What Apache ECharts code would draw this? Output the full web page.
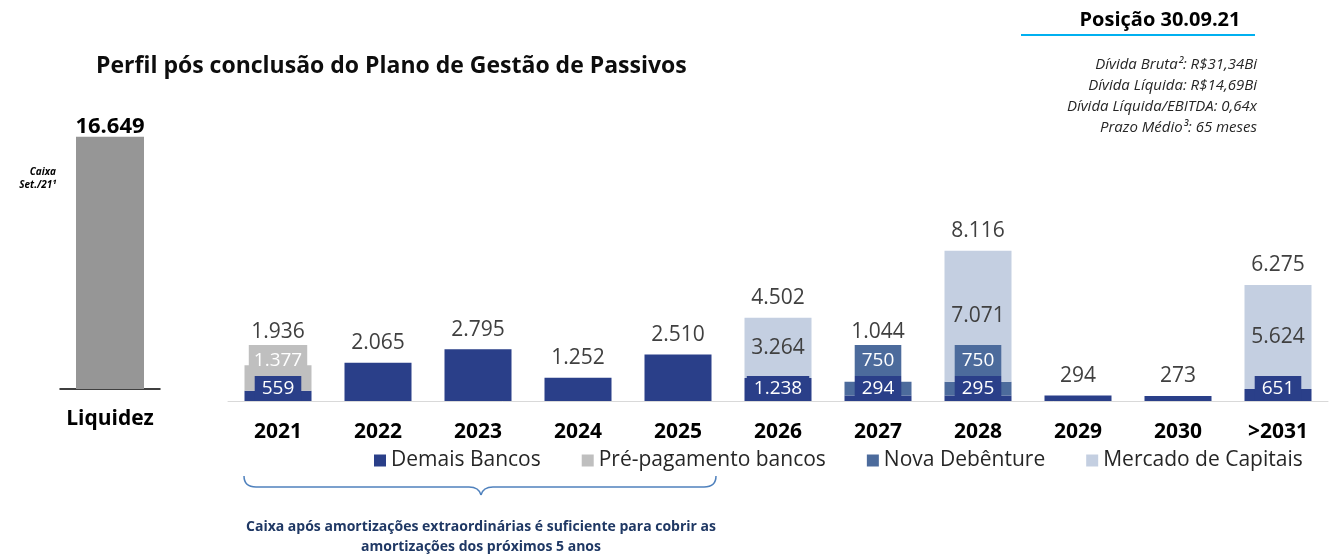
<!DOCTYPE html>
<html>
<head>
<meta charset="utf-8">
<script src="https://cdn.jsdelivr.net/npm/echarts@6/dist/echarts.min.js"></script>
<style>
  html, body { margin: 0; padding: 0; background: #fff; }
  #chart { width: 1329px; height: 556px; }
</style>
</head>
<body>
<div id="chart"></div>
<script>
// vencimentos por ano (R$ milhões)
const years = ['2021', '2022', '2023', '2024', '2025', '2026', '2027', '2028', '2029', '2030', '>2031']
const demaisBancos = [559, 2065, 2795, 1252, 2510, 1238, 294, 295, 294, 273, 651]
const prePagamento = [1377, 0, 0, 0, 0, 0, 0, 0, 0, 0, 0]
const novaDebenture = [0, 0, 0, 0, 0, 0, 750, 750, 0, 0, 0]
const mercadoCapitais = [0, 0, 0, 0, 0, 3264, 0, 7071, 0, 0, 5624]
const liquidezCat = ['Liquidez']
const caixa = [16649]
const legendNames = ['Demais Bancos', 'Pré-pagamento bancos', 'Nova Debênture', 'Mercado de Capitais']

const FONT = 'Open Sans'
const colors = ['#2a3f89', '#bfbfbf', '#4c6b9c', '#c4cfe1']

const fmt = v => String(v).replace(/\B(?=(\d{3})+(?!\d))/g, '.')
const totals = years.map((y, i) => demaisBancos[i] + prePagamento[i] + novaDebenture[i] + mercadoCapitais[i])

// px per unit on the main grid (height 185 / max 10000)
const yMax = 10000
const gridH = 185
const k = gridH / yMax

const chart = echarts.init(document.getElementById('chart'))

const boxLabel = (bg, pad) => ({
  position: 'insideBottom',
  distance: 0,
  color: '#fff',
  fontFamily: FONT,
  fontSize: 19,
  lineHeight: 19,
  backgroundColor: bg,
  padding: pad,
  formatter: p => fmt(p.value)
})

// middle segments sit right above the Demais label box
const midData = arr => arr.map((v, i) => ({
  value: v,
  label: { show: v > 0, offset: [0, demaisBancos[i] * k - 25] }
}))

const txt = (x, y, text, extra) => ({
  type: 'text', x: x, y: y, z: 10,
  style: Object.assign({ text: text, verticalAlign: 'middle', fontFamily: FONT, fill: '#000' }, extra)
})

const stroke = { stroke: '#4f81bd', lineWidth: 1.5, fill: null }

chart.setOption({
  animation: false,
  textStyle: { fontFamily: FONT },
  title: {
    text: 'Perfil pós conclusão do Plano de Gestão de Passivos',
    left: 91,
    top: 50,
    textStyle: { fontFamily: FONT, fontSize: 23, fontWeight: 'bold', color: '#0d0d0d' }
  },
  legend: {
    data: legendNames,
    left: 369,
    top: 445,
    icon: 'rect',
    itemWidth: 12,
    itemHeight: 12,
    itemGap: 41,
    textStyle: { fontFamily: FONT, fontSize: 21, color: '#262626' }
  },
  grid: [
    { left: 228, width: 1100, top: 401 - gridH, height: gridH },
    { left: 60, width: 100, top: 86, height: 303 }
  ],
  xAxis: [
    {
      type: 'category',
      data: years,
      gridIndex: 0,
      axisLine: { lineStyle: { color: '#d9d9d9', width: 1 } },
      axisTick: { show: false },
      axisLabel: { fontFamily: FONT, fontSize: 21, fontWeight: 'bold', color: '#000', margin: 21 }
    },
    {
      type: 'category',
      data: liquidezCat,
      gridIndex: 1,
      axisLine: { lineStyle: { color: '#000', width: 1.5 } },
      axisTick: { show: false },
      axisLabel: { fontFamily: FONT, fontSize: 21, fontWeight: 'bold', color: '#000', margin: 20 }
    }
  ],
  yAxis: [
    { type: 'value', gridIndex: 0, min: 0, max: yMax, show: false },
    { type: 'value', gridIndex: 1, min: 0, max: 20000, show: false }
  ],
  series: [
    {
      name: 'Demais Bancos',
      type: 'bar',
      stack: 'div',
      barWidth: 67,
      itemStyle: { color: colors[0] },
      label: boxLabel(colors[0], [3, 7]),
      data: demaisBancos.map((v, i) => ({ value: v, label: { show: totals[i] > v } }))
    },
    {
      name: 'Pré-pagamento bancos',
      type: 'bar',
      stack: 'div',
      barWidth: 67,
      itemStyle: { color: colors[1] },
      label: boxLabel(colors[1], [6, 5]),
      data: midData(prePagamento)
    },
    {
      name: 'Nova Debênture',
      type: 'bar',
      stack: 'div',
      barWidth: 67,
      itemStyle: { color: colors[2] },
      label: boxLabel(colors[2], [6, 7]),
      data: midData(novaDebenture)
    },
    {
      name: 'Mercado de Capitais',
      type: 'bar',
      stack: 'div',
      barWidth: 67,
      itemStyle: { color: colors[3] },
      label: {
        position: 'inside',
        color: '#404040',
        fontFamily: FONT,
        fontSize: 21,
        formatter: p => fmt(p.value)
      },
      data: mercadoCapitais.map(v => ({ value: v, label: { show: v > 0 } }))
    },
    {
      name: 'Total',
      type: 'bar',
      barWidth: 67,
      barGap: '-100%',
      itemStyle: { color: 'transparent' },
      label: {
        show: true,
        position: 'top',
        distance: 9,
        color: '#404040',
        fontFamily: FONT,
        fontSize: 21,
        formatter: p => fmt(p.value)
      },
      data: totals.map((v, i) => {
        // keep the total clear of the stacked label boxes
        const boxTop = (prePagamento[i] + novaDebenture[i]) > 0 ? 55 : 0
        const barTop = v * k
        const dy = boxTop > barTop ? -(boxTop - barTop) + 6 : 0
        return { value: v, label: { offset: [0, dy] } }
      })
    },
    {
      name: 'Caixa',
      type: 'bar',
      xAxisIndex: 1,
      yAxisIndex: 1,
      barWidth: 68,
      itemStyle: { color: '#969696' },
      label: {
        show: true,
        position: 'top',
        distance: 0,
        offset: [0, 1],
        color: '#000',
        fontFamily: FONT,
        fontSize: 22,
        fontWeight: 'bold',
        formatter: p => fmt(p.value)
      },
      data: caixa
    }
  ],
  graphic: [
    txt(56, 172, 'Caixa', { align: 'right', fontSize: 10, fontStyle: 'italic', fontWeight: 'bold' }),
    txt(56, 185, 'Set./21¹', { align: 'right', fontSize: 10, fontStyle: 'italic', fontWeight: 'bold' }),
    txt(1160, 20, 'Posição 30.09.21', { align: 'center', fontSize: 20, fontWeight: 'bold' }),
    {
      type: 'line',
      shape: { x1: 1021, y1: 35, x2: 1255, y2: 35 },
      style: { stroke: '#00b0f0', lineWidth: 2 }
    },
    txt(1257, 65, 'Dívida Bruta²: R$31,34Bi', { align: 'right', fontSize: 15, fontStyle: 'italic', fill: '#262626' }),
    txt(1257, 86, 'Dívida Líquida: R$14,69Bi', { align: 'right', fontSize: 15, fontStyle: 'italic', fill: '#262626' }),
    txt(1257, 107, 'Dívida Líquida/EBITDA: 0,64x', { align: 'right', fontSize: 15, fontStyle: 'italic', fill: '#262626' }),
    txt(1257, 128, 'Prazo Médio³: 65 meses', { align: 'right', fontSize: 15, fontStyle: 'italic', fill: '#262626' }),
    // chave sob 2021-2025
    { type: 'bezierCurve', shape: { x1: 244, y1: 476, x2: 256, y2: 487, cpx1: 244, cpy1: 487 }, style: stroke },
    { type: 'line', shape: { x1: 256, y1: 487, x2: 469, y2: 487 }, style: stroke },
    { type: 'bezierCurve', shape: { x1: 469, y1: 487, x2: 481, y2: 495, cpx1: 479, cpy1: 487 }, style: stroke },
    { type: 'bezierCurve', shape: { x1: 481, y1: 495, x2: 493, y2: 487, cpx1: 483, cpy1: 487 }, style: stroke },
    { type: 'line', shape: { x1: 493, y1: 487, x2: 704, y2: 487 }, style: stroke },
    { type: 'bezierCurve', shape: { x1: 704, y1: 487, x2: 716, y2: 476, cpx1: 716, cpy1: 487 }, style: stroke },
    txt(481, 527, 'Caixa após amortizações extraordinárias é suficiente para cobrir as', { align: 'center', fontSize: 14, fontWeight: 'bold', fill: '#1f3864' }),
    txt(481, 547, 'amortizações dos próximos 5 anos', { align: 'center', fontSize: 14, fontWeight: 'bold', fill: '#1f3864' })
  ]
})
</script>
</body>
</html>
